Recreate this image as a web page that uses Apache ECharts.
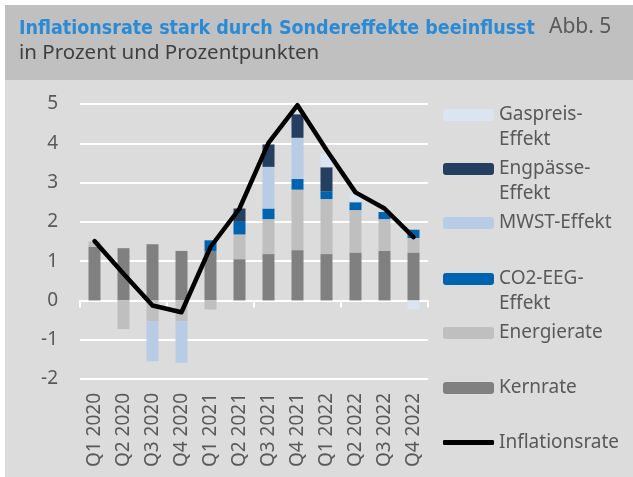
<!DOCTYPE html>
<html>
<head>
    <meta charset="utf-8">
    <script src="https://cdn.jsdelivr.net/npm/echarts@6/dist/echarts.min.js"></script>
    <style>
        html, body { margin: 0; padding: 0; }
        #chart { width: 633px; height: 477px; }
    </style>
</head>
<body>
    <div id="chart"></div>
    <script type="text/javascript">
        // Quartale
        var quarters = ['Q1 2020', 'Q2 2020', 'Q3 2020', 'Q4 2020', 'Q1 2021', 'Q2 2021',
                        'Q3 2021', 'Q4 2021', 'Q1 2022', 'Q2 2022', 'Q3 2022', 'Q4 2022'];
        // Beiträge in Prozentpunkten
        var kernrate   = [1.36, 1.33, 1.43, 1.26, 1.26, 1.05, 1.18, 1.28, 1.18, 1.22, 1.26, 1.22];
        var energie    = [0.14, -0.73, -0.53, -0.53, -0.23, 0.63, 0.89, 1.54, 1.40, 1.08, 0.81, 0.37];
        var co2eeg     = [0, 0, 0, 0, 0.27, 0.32, 0.27, 0.27, 0.20, 0.20, 0.18, 0.21];
        var mwst       = [0, 0, -1.02, -1.06, 0, 0, 1.06, 1.05, 0, 0, 0, 0];
        var engpaesse  = [0, 0, 0, 0, 0, 0.34, 0.57, 0.60, 0.61, 0, 0, 0];
        var gaspreis   = [0, 0, 0, 0, 0, 0, 0, 0.15, 0.35, 0.21, 0, -0.23];
        // Inflationsrate in Prozent
        var inflation  = [1.51, 0.68, -0.13, -0.30, 1.36, 2.34, 4.01, 4.97, 3.83, 2.75, 2.34, 1.61];
        var yTicks = [-2, -1, 0, 1, 2, 3, 4, 5];

        var font = "'Noto Sans', sans-serif";
        var textCol = '#595959';

        var chart = echarts.init(document.getElementById('chart'));

        function bar(name, data, color) {
            return {
                name: name, type: 'bar', stack: 'a', data: data,
                barWidth: 12, itemStyle: { color: color },
                emphasis: { disabled: true }
            };
        }

        // ein Legendenblock pro Eintrag, damit die Abstände passen
        function leg(name, top, extra) {
            var l = {
                data: [name], left: 443, top: top, padding: 0,
                itemWidth: 51, itemHeight: 12, itemGap: 0,
                selectedMode: false,
                // bei zweizeiligen Namen Leerzeile davor, damit das Kästchen auf der ersten Zeile sitzt
                formatter: function (n) { return n.indexOf('\n') >= 0 ? '\n' + n : n; },
                textStyle: { fontFamily: font, fontSize: 19, color: textCol, lineHeight: 25 }
            };
            for (var k in extra) l[k] = extra[k];
            return l;
        }

        // Plotbereich: top 104, bottom 379 -> Nulllinie
        var gridTop = 104, gridBottom = 379;
        var zeroY = gridTop + (gridBottom - gridTop) * yTicks[yTicks.length - 1] / (yTicks[yTicks.length - 1] - yTicks[0]);

        var option = {
            backgroundColor: '#dcdcdc',
            animation: false,
            graphic: [
                { type: 'rect', shape: { x: 0, y: 0, width: 633, height: 80 }, style: { fill: '#c0c0c0' }, z: -10 },
                { type: 'rect', shape: { x: 0, y: 0, width: 633, height: 5 }, style: { fill: '#ffffff' }, z: -9 },
                { type: 'rect', shape: { x: 0, y: 0, width: 5, height: 477 }, style: { fill: '#ffffff' }, z: -9 }
            ],
            title: [
                { text: 'Inflationsrate stark durch Sondereffekte beeinflusst', left: 19, top: 19, padding: 0,
                  textStyle: { fontFamily: "'DejaVu Sans Condensed', sans-serif",
                               fontWeight: 'bold', fontSize: 19.5, color: '#2b8ad5' } },
                { text: 'Abb. 5', left: 549, top: 17, padding: 0,
                  textStyle: { fontFamily: font, fontWeight: 'normal', fontSize: 21, color: textCol } },
                { text: 'in Prozent und Prozentpunkten', left: 19, top: 43, padding: 0,
                  textStyle: { fontFamily: font, fontWeight: 'normal', fontSize: 20.5, color: '#404040' } }
            ],
            legend: [
                leg('Gaspreis-\nEffekt', 77.5),
                leg('Engpässe-\nEffekt', 131.5),
                leg('MWST-Effekt', 210.5),
                leg('CO2-EEG-\nEffekt', 241.5),
                leg('Energierate', 320.5),
                leg('Kernrate', 375.5),
                leg('Inflationsrate', 430, { icon: 'roundRect', itemHeight: 5 })
            ],
            grid: { left: 80, right: 205, top: gridTop, bottom: 477 - gridBottom, containLabel: false, outerBoundsMode: 'none' },
            xAxis: [
                {   // Beschriftung unten
                    type: 'category', data: quarters, position: 'bottom',
                    axisLine: { show: false, onZero: false }, axisTick: { show: false },
                    axisLabel: { rotate: 90, margin: 14, fontFamily: font, fontSize: 19, color: textCol }
                },
                {   // weiße Achse mit Teilstrichen auf der Nulllinie
                    type: 'category', data: quarters, position: 'top',
                    offset: -(zeroY - gridTop),
                    axisLine: { show: true, onZero: false, lineStyle: { color: '#ffffff', width: 2 } },
                    axisTick: { show: true, inside: true, length: 7, lineStyle: { color: '#ffffff', width: 2 } },
                    axisLabel: { show: false }
                }
            ],
            yAxis: {
                type: 'value', min: yTicks[0], max: yTicks[yTicks.length - 1], interval: 1,
                axisLine: { show: false }, axisTick: { show: false },
                axisLabel: { margin: 22, fontFamily: font, fontSize: 19, color: textCol },
                splitLine: { lineStyle: { color: '#ffffff', width: 2 } }
            },
            series: [
                bar('Kernrate', kernrate, '#808080'),
                bar('Energierate', energie, '#bfbfbf'),
                bar('CO2-EEG-\nEffekt', co2eeg, '#0063b0'),
                bar('MWST-Effekt', mwst, '#b8cde5'),
                bar('Engpässe-\nEffekt', engpaesse, '#253f61'),
                bar('Gaspreis-\nEffekt', gaspreis, '#dbe5f1'),
                {
                    name: 'Inflationsrate', type: 'line', data: inflation,
                    symbol: 'none', z: 5,
                    lineStyle: { color: '#000000', width: 4.5, cap: 'round', join: 'round' },
                    itemStyle: { color: '#000000' },
                    emphasis: { disabled: true }
                }
            ]
        };
        chart.setOption(option);
    </script>
</body>
</html>
